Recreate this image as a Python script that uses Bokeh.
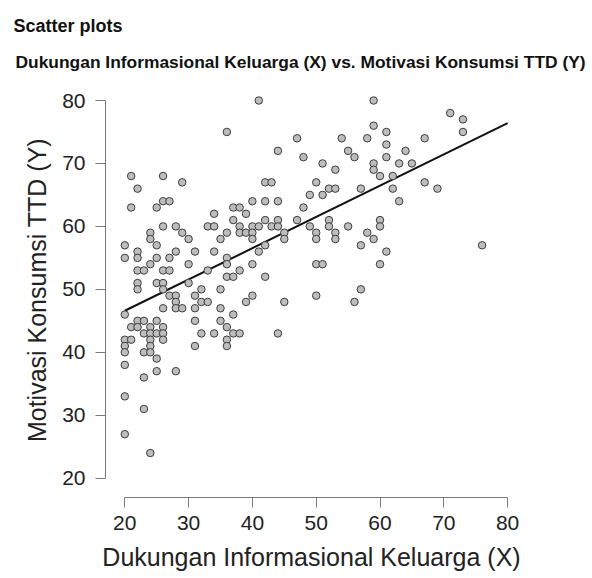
import math
from bokeh.plotting import figure
from bokeh.models import Range1d, FixedTicker, Title, ColumnDataSource
from bokeh.embed import file_html
from bokeh.resources import INLINE

# ---- data ----
x_vals = [
    20, 20, 20, 20, 20, 20, 20, 20, 20,
    21, 21, 21, 21,
    22, 22, 22, 22, 22, 22, 22, 22,
    23, 23, 23, 23, 23, 23,
    24, 24, 24, 24, 24, 24, 24, 24, 24,
    25, 25, 25, 25, 25, 25, 25, 25,
    26, 26, 26, 26, 26, 26, 26, 26, 26, 26,
    27, 27, 27, 27,
    28, 28, 28, 28, 28, 28,
    29, 29, 29,
    30, 30, 30,
    31, 31, 31, 31, 31,
    32, 32, 32,
    33, 33, 33,
    34, 34, 34, 34,
    35, 35, 35, 35,
    36, 36, 36, 36, 36, 36, 36, 36,
    37, 37, 37, 37, 37,
    38, 38, 38, 38, 38,
    39, 39, 39,
    40, 40, 40, 40, 40, 40,
    41, 41, 41,
    42, 42, 42, 42, 42,
    43, 43,
    44, 44, 44, 44, 44,
    45, 45, 45,
    47, 47,
    48, 48,
    49, 49,
    50, 50, 50, 50, 50,
    51, 51, 51,
    52, 52, 52,
    53, 53, 53, 53,
    54,
    55, 55,
    56, 56,
    57, 57, 57,
    58, 58,
    59, 59, 59, 59, 59,
    60, 60, 60, 60,
    61, 61, 61, 61,
    62, 62,
    63, 63,
    64,
    65,
    67, 67,
    69,
    71,
    73, 73,
    76,
]
y_vals = [
    57, 55, 46, 42, 41, 40, 38, 33, 27,
    68, 63, 44, 42,
    66, 56, 55, 53, 51, 50, 45, 44,
    53, 45, 43, 40, 36, 31,
    59, 58, 54, 44, 43, 42, 41, 40, 24,
    63, 57, 55, 51, 45, 43, 39, 37,
    68, 64, 60, 53, 51, 50, 47, 44, 43, 42,
    64, 55, 53, 49,
    60, 56, 49, 48, 47, 37,
    67, 59, 47,
    58, 54, 51,
    56, 49, 47, 45, 41,
    50, 48, 43,
    60, 53, 48,
    62, 60, 56, 43,
    58, 50, 47, 45,
    75, 59, 55, 54, 52, 44, 42, 41,
    63, 61, 52, 46, 43,
    63, 60, 59, 53, 43,
    62, 59, 48,
    64, 60, 59, 58, 54, 49,
    80, 60, 56,
    67, 64, 61, 57, 52,
    67, 60,
    72, 64, 61, 60, 43,
    59, 58, 48,
    74, 61,
    71, 63,
    65, 60,
    67, 59, 58, 54, 49,
    70, 65, 54,
    66, 61, 60,
    69, 66, 59, 58,
    74,
    72, 60,
    71, 48,
    66, 57, 50,
    74, 59,
    80, 76, 70, 69, 58,
    68, 61, 60, 54,
    75, 73, 71, 56,
    68, 66,
    70, 64,
    72,
    70,
    74, 67,
    66,
    78,
    77, 75,
    57,
]

# regression line
fit_x = [20, 80]
fit_y = [46.6, 76.4]

x_ticks = [20, 30, 40, 50, 60, 70, 80]
y_ticks = [20, 30, 40, 50, 60, 70, 80]

main_title = "Scatter plots"
sub_title = "Dukungan Informasional Keluarga (X) vs. Motivasi Konsumsi TTD (Y)"
x_title = "Dukungan Informasional Keluarga (X)"
y_title = "Motivasi Konsumsi TTD (Y)"

FONT = "Liberation Sans"

# frame: left 105, right 517, top 82, bottom 497 (page pixels)
p = figure(
    width=592, height=578,
    x_range=Range1d(16.975, 81.55),
    y_range=Range1d(16.934, 82.86),
    output_backend="svg",
    toolbar_location=None,
    min_border_left=105, min_border_right=75,
    min_border_top=82, min_border_bottom=81,
    title=Title(text=main_title, align="left", offset=-92, standoff=6,
                text_font=FONT, text_font_size="18px",
                text_font_style="bold", text_color="#111111"),
)
p.add_layout(Title(text=sub_title, align="left", offset=-90, standoff=22,
                   text_font=FONT, text_font_size="17.4px",
                   text_font_style="bold", text_color="#111111"), "above")

p.outline_line_color = None
p.xgrid.visible = False
p.ygrid.visible = False
p.background_fill_color = "white"
p.border_fill_color = "white"

for ax, ticks in ((p.xaxis[0], x_ticks), (p.yaxis[0], y_ticks)):
    ax.ticker = FixedTicker(ticks=ticks)
    ax.bounds = (20, 80)
    ax.axis_line_color = "#7a7a7a"
    ax.axis_line_width = 1
    ax.major_tick_line_color = "#7a7a7a"
    ax.major_tick_in = 0
    ax.major_tick_out = 10
    ax.minor_tick_line_color = None
    ax.major_label_text_font = FONT
    ax.major_label_text_font_size = "21px"
    ax.major_label_text_color = "#222222"
    ax.axis_label_text_font = FONT
    ax.axis_label_text_font_size = "25px"
    ax.axis_label_text_font_style = "normal"
    ax.axis_label_text_color = "#222222"

p.xaxis[0].major_label_standoff = 8
p.yaxis[0].major_label_standoff = 10
p.xaxis[0].axis_label = x_title
p.yaxis[0].axis_label = y_title
p.xaxis[0].axis_label_standoff = 10
p.yaxis[0].axis_label_standoff = 8

src = ColumnDataSource(dict(x=x_vals, y=y_vals))
p.line(fit_x, fit_y, line_color="#111111", line_width=2)
p.scatter("x", "y", source=src, size=7.5, fill_color="#bdbdbd",
          line_color="#3c3c3c", line_width=1)

open("out.html", "w").write(file_html(p, INLINE))
